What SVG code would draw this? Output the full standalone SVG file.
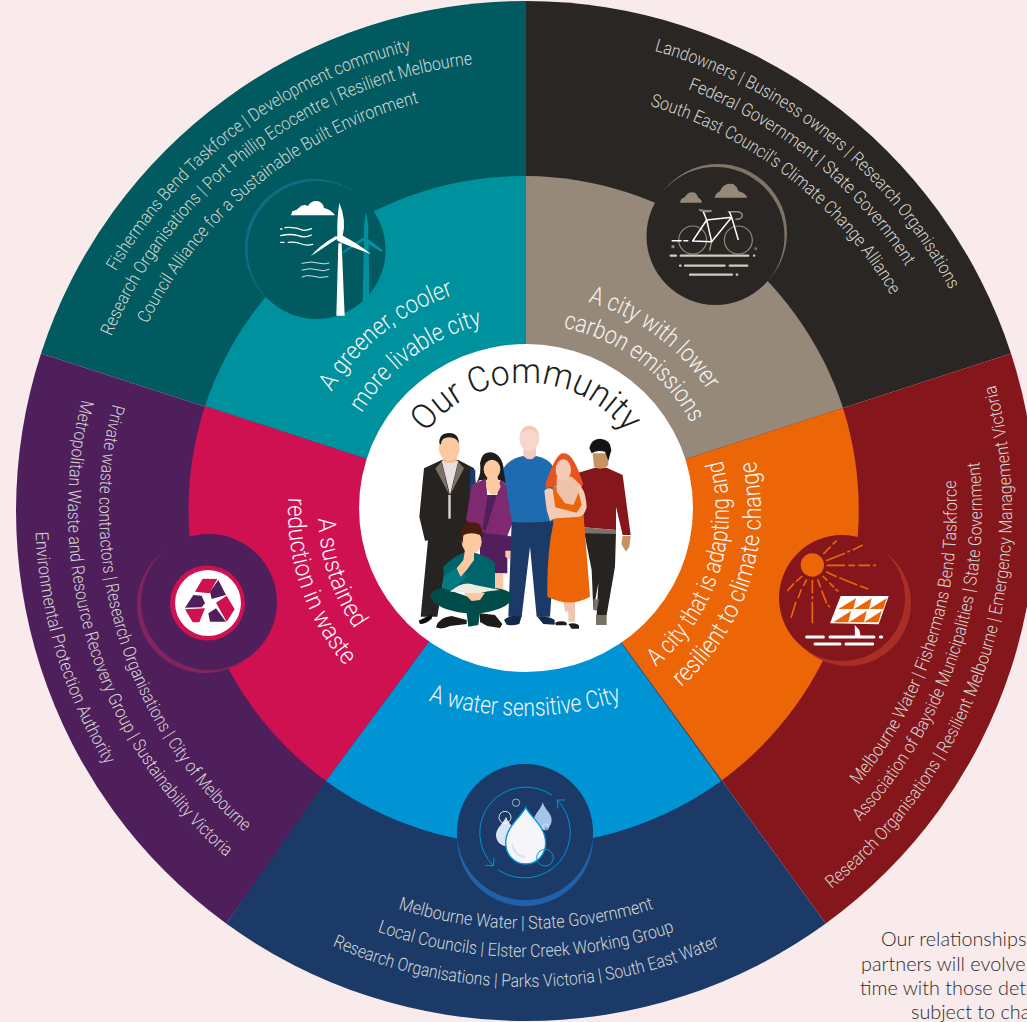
<svg xmlns="http://www.w3.org/2000/svg" xmlns:xlink="http://www.w3.org/1999/xlink" width="1027" height="1022" viewBox="0 0 1027 1022">
<style>
.o{font-family:"Roboto","Liberation Sans",sans-serif;font-weight:300;font-size:18px;fill:#d4d6d2;text-anchor:middle}
.m{font-family:"Roboto","Liberation Sans",sans-serif;font-weight:300;font-size:25px;fill:#f4f4f4;text-anchor:middle}
.note{font-family:"Lato","Noto Sans",sans-serif;font-weight:300;font-size:19.8px;fill:#2b2a29}
.g{fill:none;stroke-linecap:round}
</style>
<defs>
<path id="c475" d="M51 511A475 475 0 0 1 1001 511"/>
<path id="c450" d="M76 511A450 450 0 0 1 976 511"/>
<path id="c422" d="M104 511A422 422 0 0 1 948 511"/>
<path id="c478" d="M48 511A478 478 0 0 1 1004 511"/>
<path id="c452" d="M74 511A452 452 0 0 1 978 511"/>
<path id="c424" d="M102 511A424 424 0 0 1 950 511"/>
<path id="c228" d="M298 511A228 228 0 0 1 754 511"/>
<path id="c191" d="M335 511A191 191 0 0 1 717 511"/>
<path id="c218" d="M308 511A218 218 0 0 1 744 511"/>
<path id="c187" d="M339 511A187 187 0 0 1 713 511"/>
<path id="b431" d="M95 511A431 431 0 0 0 957 511"/>
<path id="b456" d="M70 511A456 456 0 0 0 982 511"/>
<path id="b486" d="M40 511A486 486 0 0 0 1012 511"/>
<path id="b418" d="M108 511A418 418 0 0 0 944 511"/>
<path id="b446" d="M80 511A446 446 0 0 0 972 511"/>
<path id="b476" d="M50 511A476 476 0 0 0 1002 511"/>
<path id="b427" d="M99 511A427 427 0 0 0 953 511"/>
<path id="b458" d="M68 511A458 458 0 0 0 984 511"/>
<path id="b491" d="M35 511A491 491 0 0 0 1017 511"/>
<path id="b203" d="M323 511A203 203 0 0 0 729 511"/>
<path id="b235" d="M291 511A235 235 0 0 0 761 511"/>
<path id="b208" d="M318 511A208 208 0 0 0 734 511"/>
<path id="b238" d="M288 511A238 238 0 0 0 764 511"/>
<path id="bw" d="M400 690A315 315 0 0 0 650 690"/>
<path id="oc" d="M401 508A125 125 0 0 1 651 508"/>
</defs>
<rect width="1027" height="1022" fill="#f9ebeb"/>

<g id="connectors"></g>

<g id="wedge-green">
<path d="M526 511L41 353.4A510 510 0 0 1 526 1Z" fill="#005a5f"/>
<path d="M526 511L205 406A336 336 0 0 1 526 176Z" fill="#00919e"/>
<text class="o" transform="rotate(-36.85 526 511)"><textPath href="#c475" startOffset="50%" textLength="379" lengthAdjust="spacingAndGlyphs">Fishermans Bend Taskforce | Development community</textPath></text>
<text class="o" transform="rotate(-37 526 511)"><textPath href="#c450" startOffset="50%" textLength="474" lengthAdjust="spacingAndGlyphs">Research Organisations | Port Phillip Ecocentre | Resilient Melbourne</textPath></text>
<text class="o" transform="rotate(-39.2 526 511)"><textPath href="#c422" startOffset="50%" textLength="361" lengthAdjust="spacingAndGlyphs">Council Alliance for a Sustainable Built Environment</textPath></text>
<text class="m" transform="rotate(-38.5 526 511)"><textPath href="#c228" startOffset="50%" textLength="159" lengthAdjust="spacingAndGlyphs">A greener, cooler</textPath></text>
<text class="m" transform="rotate(-36.2 526 511)"><textPath href="#c191" startOffset="50%" textLength="153" lengthAdjust="spacingAndGlyphs">more livable city</textPath></text>
<circle cx="314" cy="248" r="69" fill="#0f6e85"/>
<circle cx="316.5" cy="250" r="69" fill="#005a5f"/>
<g transform="translate(240 170) scale(.33333)">
<g fill="#00919e"><path d="M372 215L386 215L388 392L368 396Z"/><path d="M378 125Q388 170 384 205L372 205Q370 165 378 125Z"/><path d="M375 200L428 240L424 246L368 212Z"/><path d="M378 206L310 250L308 245L368 203Z"/></g>
<g fill="#fff"><path d="M295 220L305 220L314 437L289 437Z"/><path d="M298 98Q320 150 308 198L292 198Q290 150 298 98Z"/><path d="M296 203L213 258Q240 225 288 198Z"/><path d="M306 196Q360 225 393 253L298 216Z"/><circle cx="300" cy="205" r="10"/>
<path d="M153 136L157 124Q170 122 176 114Q188 100 204 108Q214 90 236 94Q250 100 252 114Q272 118 285 136Z"/></g>
<g class="g" stroke="#fff" stroke-width="4"><path d="M122 177H126M135 173Q165 170 190 181Q205 181 214 176"/><path d="M122 197Q150 190 175 197Q195 205 214 195"/><path d="M122 217H132M145 217Q170 215 185 222Q200 228 218 223"/></g>
<g class="g" stroke="#cfe3e3" stroke-width="3"><path d="M186 280Q215 272 240 280Q255 284 267 279"/><path d="M186 300Q210 292 235 300Q250 306 267 298"/><path d="M186 321Q200 314 215 318Q240 326 264 320"/></g>
</g>
</g>

<g id="wedge-carbon">
<path d="M526 511L526 1A510 510 0 0 1 1011 353.4Z" fill="#2a2624"/>
<path d="M526 511L526 176A336 336 0 0 1 843 408Z" fill="#97897a"/>
<text class="o" transform="rotate(39 526 511)"><textPath href="#c478" startOffset="50%" textLength="391" lengthAdjust="spacingAndGlyphs">Landowners | Business owners | Research Organisations</textPath></text>
<text class="o" transform="rotate(39.1 526 511)"><textPath href="#c452" startOffset="50%" textLength="286" lengthAdjust="spacingAndGlyphs">Federal Government | State Government</textPath></text>
<text class="o" transform="rotate(38.2 526 511)"><textPath href="#c424" startOffset="50%" textLength="314" lengthAdjust="spacingAndGlyphs">South East Council's Climate Change Alliance</textPath></text>
<text class="m" transform="rotate(36.5 526 511)"><textPath href="#c218" startOffset="50%" textLength="152" lengthAdjust="spacingAndGlyphs">A city with lower</textPath></text>
<text class="m" transform="rotate(36.75 526 511)"><textPath href="#c187" startOffset="50%" textLength="165" lengthAdjust="spacingAndGlyphs">carbon emissions</textPath></text>
<circle cx="718" cy="233" r="69" fill="#7f7466"/>
<circle cx="715.5" cy="236" r="69" fill="#2a2624"/>
<g transform="translate(640 160) scale(.33333)">
<g fill="#97897a"><path d="M120 128Q122 115 134 112Q145 92 165 98Q172 104 174 112Q184 118 186 128Z"/><path d="M224 113Q228 98 240 94Q250 66 280 72Q292 80 296 94Q315 98 322 113Z"/><path d="M176 146Q196 152 215 149L215 156Q190 160 178 152Z"/></g>
<g class="g" stroke="#97897a" stroke-width="3.5"><circle cx="158" cy="240" r="42"/><circle cx="295" cy="240" r="42"/><path d="M265 155H295Q310 160 306 170Q302 178 288 178" stroke-width="4.5"/><path d="M215 245L209 270" stroke-width="4.5"/></g>
<path d="M190 155L200 180L275 172L215 245L158 243L200 180L215 245M268 155L275 172L295 240" fill="none" stroke="#fff" stroke-width="4.5" stroke-linejoin="round"/>
<path d="M95 242H125M130 242H145" stroke="#fff" stroke-width="4.5"/>
<circle cx="99" cy="260" r="5" fill="#97897a"/><circle cx="347" cy="266" r="3" fill="none" stroke="#ddd" stroke-width="1.5"/>
<path class="g" d="M92 287H108M122 287H325M342 287H343M120 317H122M135 317H254M269 317H322M150 344H276M290 344H292" stroke="#d3cbc0" stroke-width="6.5"/>
</g>
</g>

<g id="wedge-climate">
<path d="M526 511L1011 353.4A510 510 0 0 1 825.8 923.6Z" fill="#85161b"/>
<path d="M526 511L843 408A336 336 0 0 1 721 781Z" fill="#ec6608"/>
<text class="o" transform="rotate(-72.3 526 511)"><textPath href="#b431" startOffset="50%" textLength="328" lengthAdjust="spacingAndGlyphs">Melbourne Water | Fishermans Bend Taskforce</textPath></text>
<text class="o" transform="rotate(-71.65 526 511)"><textPath href="#b456" startOffset="50%" textLength="391" lengthAdjust="spacingAndGlyphs">Association of Bayside Municipalities | State Government</textPath></text>
<text class="o" transform="rotate(-72 526 511)"><textPath href="#b486" startOffset="50%" textLength="561" lengthAdjust="spacingAndGlyphs">Research Organisations | Resilient Melbourne | Emergency Management Victoria</textPath></text>
<text class="m" transform="rotate(-72.15 526 511)"><textPath href="#b203" startOffset="50%" textLength="229" lengthAdjust="spacingAndGlyphs">A city that is adapting and</textPath></text>
<text class="m" transform="rotate(-71.85 526 511)"><textPath href="#b235" startOffset="50%" textLength="250" lengthAdjust="spacingAndGlyphs">resilient to climate change</textPath></text>
<circle cx="848" cy="603" r="63" fill="#a82e26"/>
<circle cx="842" cy="598" r="63" fill="#85161b"/>
<g transform="translate(770 530) scale(.33333)">
<circle cx="127" cy="105" r="35" fill="#ec6608"/>
<path fill="none" stroke="#ec6608" stroke-width="5" d="M160 72L182 50M188 43L200 32M168 92L225 70M232 66L240 63M248 60L278 45M170 106H225M235 106H255M265 106H300M310 106H318M168 125L200 140M208 143L262 165M270 168L295 177M158 138L172 152M178 158L192 172M196 177L205 184M143 148L152 172M155 182L170 220M174 225L180 232M127 150V190M127 198V208M127 215V280M110 148L100 168M94 178L84 205M78 215L63 263M97 138L78 155M72 160L52 183"/>
<path d="M212 198H356L326 283L180 280Z" fill="#fff"/>
<path d="M205 237L258 205L250 237ZM252 237L305 205L297 237ZM298 237L350 205L340 237ZM190 277L243 243L235 277ZM237 277L290 243L282 277ZM282 277L335 243L325 277Z" fill="#ec6608"/>
<path d="M254 285L268 300L272 318L255 318Z" fill="#fff"/>
<path class="g" d="M110 321H160M180 321H255M262 321H312M331 321H335M135 342H210M228 342H308" stroke="#fff" stroke-width="9"/>
</g>
</g>

<g id="wedge-waste">
<path d="M526 511L226.2 923.6A510 510 0 0 1 41 353.4Z" fill="#4f1f5c"/>
<path d="M560 560L326 781A336 336 0 0 1 205 406L526 511Z" fill="#cf1152"/>
<text class="o" transform="rotate(72.9 526 511)"><textPath href="#b427" startOffset="50%" textLength="471" lengthAdjust="spacingAndGlyphs">Private waste contractors | Research Organisations | City of Melbourne</textPath></text>
<text class="o" transform="rotate(72.5 526 511)"><textPath href="#b458" startOffset="50%" textLength="505" lengthAdjust="spacingAndGlyphs">Metropolitan Waste and Resource Recovery Group | Sustainability Victoria</textPath></text>
<text class="o" transform="rotate(73.2 526 511)"><textPath href="#b491" startOffset="50%" textLength="246" lengthAdjust="spacingAndGlyphs">Environmental Protection Authority</textPath></text>
<text class="m" transform="rotate(71.7 526 511)"><textPath href="#b208" startOffset="50%" textLength="118" lengthAdjust="spacingAndGlyphs">A sustained</textPath></text>
<text class="m" transform="rotate(71.35 526 511)"><textPath href="#b238" startOffset="50%" textLength="182" lengthAdjust="spacingAndGlyphs">reduction in waste</textPath></text>
<circle cx="205" cy="605" r="68" fill="#83245f"/>
<circle cx="209" cy="602" r="68" fill="#4f1f5c"/>
<circle cx="207.5" cy="603" r="37.5" fill="#cf1152"/>
<circle cx="208" cy="603" r="33" fill="#fff"/>
<g transform="translate(130 530) scale(.33333)">
<path d="M218 146L262 147L238 190L195 185ZM290 197L314 238L290 275L258 218ZM165 238L225 235L208 277L188 277Z" fill="#cf1152"/>
<path d="M265 150L288 195L245 207L240 185ZM235 250L258 235L288 275L240 275ZM190 195L215 197L225 220L215 232L165 233Z" fill="#4f1f5c"/>
</g>
</g>

<g id="wedge-water">
<path d="M526 511L825.8 923.6A510 510 0 0 1 226.2 923.6L326 781Z" fill="#1b3a68"/>
<path d="M526 511L721 781A336 336 0 0 1 326 781Z" fill="#0094d4"/>
<text class="o"><textPath href="#b418" startOffset="50%" textLength="260" lengthAdjust="spacingAndGlyphs">Melbourne Water | State Government</textPath></text>
<text class="o"><textPath href="#b446" startOffset="50%" textLength="303" lengthAdjust="spacingAndGlyphs">Local Councils | Elster Creek Working Group</textPath></text>
<text class="o"><textPath href="#b476" startOffset="50%" textLength="399" lengthAdjust="spacingAndGlyphs">Research Organisations | Parks Victoria | South East Water</textPath></text>
<text class="m"><textPath href="#bw" startOffset="50%" textLength="196" lengthAdjust="spacingAndGlyphs">A water sensitive City</textPath></text>
<circle cx="525" cy="838" r="68" fill="#1f62a9"/>
<circle cx="525" cy="832" r="68" fill="#1b3a68"/>
<g transform="translate(450 760) scale(.33333)">
<path d="M168 170C178 195 200 210 200 235C200 258 180 258 165 258C148 255 138 240 138 225C138 205 160 190 168 170Z" fill="#d8e4f4"/>
<path d="M278 127C285 150 305 160 305 180C305 200 290 208 278 208C262 208 250 195 252 178C254 160 272 150 278 127Z" fill="#a4c4e8"/>
<path d="M227 142C245 175 287 200 287 250A60 62 0 1 1 167 250C167 200 210 175 227 142Z" fill="#f6f6f8" stroke="#0094d4" stroke-width="4"/>
<path d="M187 250Q190 285 225 292" fill="none" stroke="#d8e4f4" stroke-width="6"/>
<g fill="none" stroke-width="2.5"><circle cx="198" cy="128" r="11" stroke="#b4c3dc"/><circle cx="165" cy="172" r="18" stroke="#fff"/><circle cx="287" cy="201" r="9" stroke="#dde6f2"/><circle cx="285" cy="293" r="25" stroke="#0094d4" stroke-width="3"/></g>
<path class="g" stroke="#0094d4" stroke-width="3" d="M305 105A138 138 0 0 0 130 317M132 295L130 317L107 316M145 330A138 138 0 0 0 322 120M345 120L322 120L323 145"/>
</g>
</g>

<g id="community">
<ellipse cx="526" cy="508" rx="167" ry="164" fill="#fff"/>
<text font-family="Roboto, 'Liberation Sans', sans-serif" font-weight="300" font-size="35" fill="#1d1d1b" text-anchor="middle"><textPath href="#oc" startOffset="50%" textLength="232" lengthAdjust="spacingAndGlyphs">Our Community</textPath></text>
<g transform="translate(400 420) scale(.33333)">
<path d="M85 350L222 340L190 500L130 480L112 590L62 590Z" fill="#262321"/>
<path d="M56 602Q75 590 97 584L95 596Q78 612 60 612Z" fill="#0d0d0d"/>
<path d="M72 145L125 120L175 120L222 145L228 200L218 300L222 350L75 362L58 290Z" fill="#262321"/>
<path d="M125 122L175 122L150 225Z" fill="#e9e0de"/>
<path d="M106 145L125 125L148 225ZM192 145L175 125L152 222Z" fill="#7a7264"/>
<path d="M145 225H152V296H145Z" fill="#ddd"/>
<path d="M210 145L226 150L226 190L208 230Z" fill="#1b3a68"/>
<path d="M128 100H170V122Q150 135 128 122Z" fill="#f5b98e"/>
<ellipse cx="148" cy="85" rx="31" ry="38" fill="#fcc9a0"/>
<path d="M118 70Q116 40 148 39Q178 40 176 72Q172 52 148 52Q124 52 122 74Z" fill="#1d1d1b"/>
<path d="M240 130Q245 95 272 97Q305 100 312 150Q335 175 337 205L300 180L240 180L228 190Q245 165 240 130Z" fill="#1d1d1b"/>
<path d="M240 225H322V460H240Z" fill="#501f5c"/>
<path d="M282 462H310V510H282Z" fill="#f6c7a8"/>
<path d="M258 175L215 195L198 300L220 322L258 340L322 347L345 292L335 205L300 180L290 232L262 232Z" fill="#7f2a70"/>
<path d="M262 232H288L256 335L248 325Z" fill="#501f5c"/>
<ellipse cx="276" cy="148" rx="25" ry="29" fill="#fcc9a0"/>
<path d="M262 170H292L302 200Q280 250 258 200Z" fill="#fcc9a0"/>
<path d="M322 347L338 350L334 398L316 395Z" fill="#501f5c"/>
<path d="M316 392H334L330 420L316 410Z" fill="#fcc9a0"/>
<path d="M335 305L470 300L450 590L410 590L390 380L365 590L325 590Z" fill="#1b3a68"/>
<path d="M312 600Q325 585 365 588L358 612Q335 618 320 614ZM412 590Q440 585 464 600L464 614L430 612Z" fill="#102a4c"/>
<path d="M310 145Q330 115 370 108L408 108Q445 115 460 140L470 300Q400 312 335 305Z" fill="#1e6bb0"/>
<path d="M370 80H408V108Q390 128 370 108Z" fill="#f3cbbf"/>
<ellipse cx="388" cy="55" rx="30" ry="38" fill="#f8d5cd"/>
<path d="M360 45Q365 18 388 18Q412 18 417 45Q400 28 388 28Q372 28 360 45Z" fill="#f4c7b0"/>
<path d="M550 325L648 335L645 440L620 585L590 585L595 490L580 570L575 450Z" fill="#262321"/>
<path d="M588 585H620V615H588ZM580 538L597 538L590 572L580 570Z" fill="#7a7264"/>
<path d="M530 160L585 143L620 143L668 165L692 345L668 345L648 260L648 330L548 322Z" fill="#85161b"/>
<path d="M548 322L648 330V342L550 340Z" fill="#7a7264"/>
<path d="M668 348H692L688 380L678 395L664 372Z" fill="#c6935f"/>
<path d="M578 100H625V135Q605 155 582 140Z" fill="#c6935f"/>
<path d="M568 85Q572 58 600 56Q632 58 634 90L625 122L615 95Q590 90 575 100Z" fill="#141414"/>
<path d="M490 545H525V605H505V575H495Z" fill="#f2c6ae"/>
<path d="M465 608Q485 600 500 608V616H468ZM505 612Q525 606 537 616V626H515Z" fill="#1d1d1b"/>
<path d="M458 200L545 195L552 300L570 530Q510 565 442 530Q440 400 460 310Z" fill="#ec6608"/>
<path d="M437 190Q470 95 490 100Q520 95 550 195Q500 190 437 205Z" fill="#e85420"/>
<path d="M470 170H515L545 198L520 255L495 250L470 215Z" fill="#f0c2aa"/>
<ellipse cx="490" cy="150" rx="23" ry="32" fill="#f5cbb8"/>
<path d="M433 212Q445 200 458 208L466 262L530 278L545 255L532 200Q555 195 560 260Q555 285 540 290L470 295Q445 300 452 310L440 270Z" fill="#f5cbb8"/>
<path d="M130 440Q175 395 215 395Q270 410 285 430L285 510L130 510Z" fill="#00656b"/>
<path d="M130 470L175 440L200 470L150 515L125 510Z" fill="#007a83"/>
<path d="M90 530Q95 505 130 505L205 530L290 505Q335 510 338 535Q320 570 240 580L235 615L205 620L200 580Q110 570 90 530Z" fill="#004c4a"/>
<path d="M150 515Q190 480 225 495L300 510L225 518Z" fill="#e9ede2"/>
<path d="M190 518H255L240 540L215 543Z" fill="#fcc9a0"/>
<path d="M108 622Q115 592 155 588L200 600L200 612L150 618Q125 630 108 622ZM240 580L285 585L307 612L300 624L262 618L240 606Z" fill="#1d1a18"/>
<ellipse cx="215" cy="365" rx="30" ry="36" fill="#fcc9a0"/>
<path d="M195 390L222 385L222 420L200 450L182 470L170 445L190 420Z" fill="#fcc9a0"/>
<path d="M182 350Q182 305 215 307Q250 305 247 350L240 345Q215 335 190 345L188 372Z" fill="#4a1e0c"/>
</g>
</g>

<g id="note" class="note">
<text x="881" y="946">Our relationships</text>
<text x="861" y="971">partners will evolve</text>
<text x="860" y="995">time with those det</text>
<text x="911" y="1019">subject to cha</text>
</g>
</svg>
